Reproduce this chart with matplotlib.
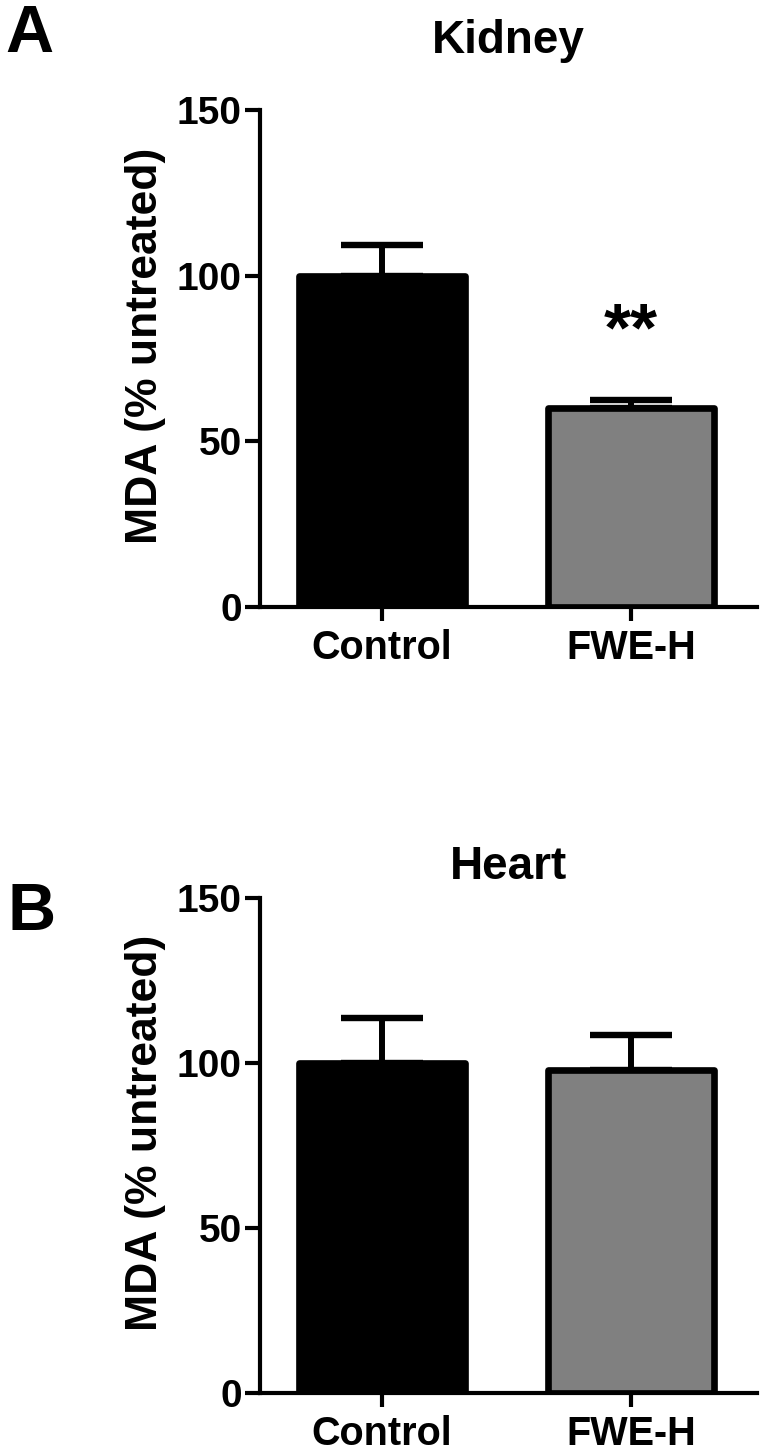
import numpy as np
import matplotlib
matplotlib.use("Agg")
import matplotlib.pyplot as plt

plt.rcParams['font.family'] = ['Liberation Sans', 'DejaVu Sans']
plt.rcParams['font.weight'] = 'bold'

groups = ['Control', 'FWE-H']
kidney_mean = [100, 60]
kidney_sem = [9.3, 2.5]
heart_mean = [100, 98]
heart_sem = [13.5, 10.5]
bar_colors = ['#000000', '#808080']
yticks = [0, 50, 100, 150]


def draw_panel(ax, means, sems, title, title_pad):
    x = np.arange(len(groups))
    # error bars first so the bars cover the lower half
    ax.errorbar(x, means, yerr=[np.zeros(len(sems)), sems], fmt='none',
                ecolor='black', elinewidth=4.3, capsize=29.5, capthick=4.6, zorder=1)
    ax.bar(x, means, width=0.665, color=bar_colors, edgecolor='black',
           linewidth=4.8, joinstyle='round', zorder=2)
    ax.set_xlim(-0.49, 1.505)
    ax.set_ylim(0, 150)
    ax.set_yticks(yticks)
    ax.set_xticks(x)
    ax.set_xticklabels(groups)
    for s in ['top', 'right']:
        ax.spines[s].set_visible(False)
    for s in ['left', 'bottom']:
        ax.spines[s].set_linewidth(3)
    ax.tick_params(axis='y', length=11, width=3, labelsize=28, pad=2)
    ax.tick_params(axis='x', length=10, width=3, labelsize=28.5, pad=6)
    ax.set_ylabel('MDA (% untreated)', fontsize=32, fontweight='bold')
    ax.yaxis.set_label_coords(-0.19, 0.525)
    ax.set_title(title, fontsize=33, fontweight='bold', pad=title_pad)
    for lab in ax.get_xticklabels() + ax.get_yticklabels():
        lab.set_fontweight('bold')


fig = plt.figure(figsize=(7.62, 14.56), dpi=100)
W, H = 762, 1456
axA = fig.add_axes([260 / W, 1 - 607 / H, (757 - 260) / W, (607 - 110) / H])
axB = fig.add_axes([260 / W, 1 - 1393 / H, (757 - 260) / W, (1393 - 898) / H])

draw_panel(axA, kidney_mean, kidney_sem, 'Kidney', 41)
draw_panel(axB, heart_mean, heart_sem, 'Heart', 14)

axA.text(1, 83, '**', ha='center', va='center', fontsize=50)

fig.text(5 / W, 1 - 52 / H, 'A', fontsize=48, fontweight='bold', va='baseline')
fig.text(8 / W, 1 - 930 / H, 'B', fontsize=48, fontweight='bold', va='baseline')

fig.savefig('out.png', dpi=100)
